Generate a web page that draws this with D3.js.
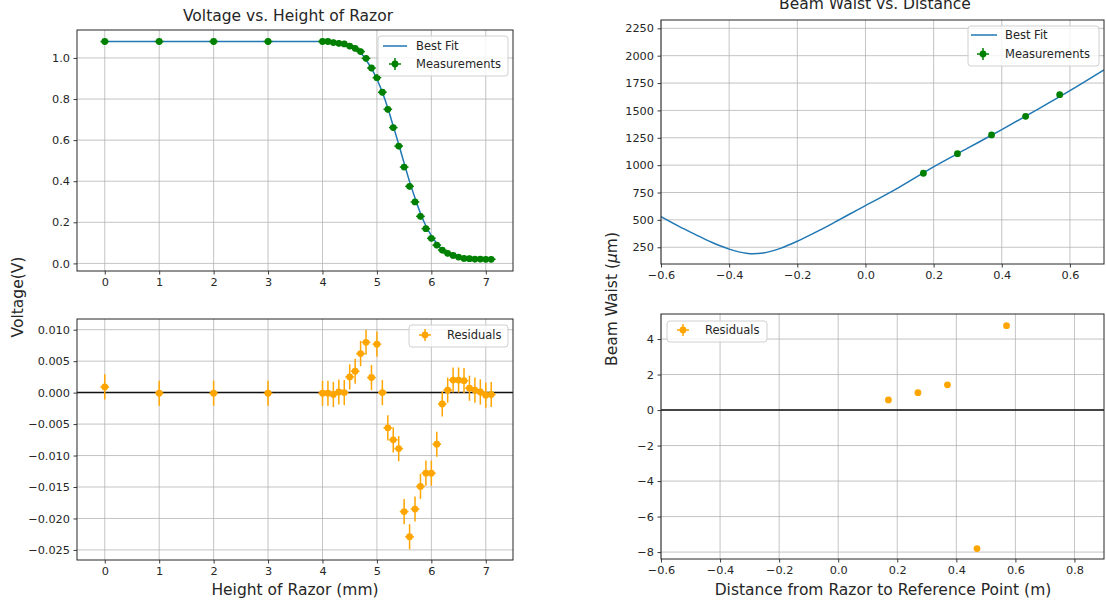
<!DOCTYPE html>
<html>
<head>
<meta charset="utf-8">
<script src="https://cdn.jsdelivr.net/npm/d3@7"></script>
<style>
  body { margin: 0; background: #fff; }
  text { font-family: "DejaVu Sans", sans-serif; }
</style>
</head>
<body>
<svg id="chart"></svg>
<script>
// razor scan (left panels)
const heightMM = [0, 1, 2, 3, 4.0, 4.1, 4.2, 4.3, 4.4, 4.5, 4.6, 4.7, 4.8, 4.9, 5.0, 5.1, 5.2, 5.3, 5.4, 5.5,
  5.6, 5.7, 5.8, 5.9, 6.0, 6.1, 6.2, 6.3, 6.4, 6.5, 6.6, 6.7, 6.8, 6.9, 7.0, 7.1];
const voltage = [1.08, 1.08, 1.08, 1.08, 1.08, 1.08, 1.075, 1.071, 1.068, 1.058, 1.047, 1.031, 0.998, 0.951,
  0.904, 0.833, 0.750, 0.661, 0.571, 0.469, 0.375, 0.299, 0.229, 0.169, 0.122, 0.089, 0.065, 0.049, 0.039,
  0.031, 0.024, 0.023, 0.021, 0.021, 0.020, 0.020];
const voltResid = [0.0009, -0.0001, -0.0001, -0.0001, -0.0001, -0.0001, -0.0003, 0.0001, 0.0, 0.0025, 0.0034,
  0.0062, 0.0080, 0.0024, 0.0077, 0.0, -0.0056, -0.0075, -0.0089, -0.0189, -0.0229, -0.0185, -0.0149, -0.0128,
  -0.0128, -0.0082, -0.0018, 0.0004, 0.0020, 0.0020, 0.0019, 0.0007, 0.0004, 0.0001, -0.0004, -0.0003];
const fitHeight = [0, 4.0, 4.1, 4.2, 4.3, 4.4, 4.5, 4.6, 4.7, 4.8, 4.9, 5.0, 5.1, 5.2, 5.3, 5.4, 5.5, 5.6, 5.7,
  5.8, 5.9, 6.0, 6.1, 6.2, 6.3, 6.4, 6.5, 6.6, 6.7, 6.8, 6.9, 7.0, 7.1];
const fitVoltage = [1.08, 1.08, 1.08, 1.076, 1.071, 1.068, 1.056, 1.044, 1.025, 0.990, 0.949, 0.896, 0.833,
  0.756, 0.668, 0.580, 0.488, 0.398, 0.318, 0.244, 0.182, 0.135, 0.097, 0.067, 0.049, 0.037, 0.029, 0.024,
  0.022, 0.021, 0.021, 0.020, 0.020];
const xErrMM = 0.08;
const yErrV = 0.015;
const yErrResid = 0.002;

// beam waist (right panels)
const distM = [0.17, 0.27, 0.37, 0.47, 0.57];
const waistUM = [926, 1105, 1276, 1446, 1644];
const waistResid = [0.57, 0.98, 1.42, -7.8, 4.75];
const fitDist = [-0.6, -0.55, -0.5, -0.45, -0.4, -0.35, -0.33, -0.3, -0.25, -0.2, -0.15, -0.1, -0.05, 0,
  0.1, 0.2, 0.3, 0.4, 0.5, 0.6, 0.7];
const fitWaist = [530, 446, 368, 293, 233, 195, 190, 197, 240, 305, 381, 462, 547, 630, 800, 985, 1155, 1325,
  1500, 1680, 1870];

const W = 1106, H = 607;
const svg = d3.select('#chart').attr('width', W).attr('height', H);
svg.append('rect').attr('width', W).attr('height', H).attr('fill', '#fff');

const defs = svg.append('defs');
let clipId = 0;

function panel(box, xDom, yDom, xTicks, yTicks, xFmt, yFmt) {
  const x = d3.scaleLinear().domain(xDom).range([box.x0, box.x1]);
  const y = d3.scaleLinear().domain(yDom).range([box.y1, box.y0]);
  const g = svg.append('g');

  g.selectAll('.gx').data(xTicks).enter().append('line')
    .attr('x1', d => x(d)).attr('x2', d => x(d))
    .attr('y1', box.y0).attr('y2', box.y1)
    .attr('stroke', '#b0b0b0').attr('stroke-width', 1).attr('stroke-opacity', 0.75);
  g.selectAll('.gy').data(yTicks).enter().append('line')
    .attr('x1', box.x0).attr('x2', box.x1)
    .attr('y1', d => y(d)).attr('y2', d => y(d))
    .attr('stroke', '#b0b0b0').attr('stroke-width', 1).attr('stroke-opacity', 0.75);

  const ax = g.append('g').attr('transform', `translate(0,${box.y1})`)
    .call(d3.axisBottom(x).tickValues(xTicks).tickFormat(xFmt).tickSizeInner(3.5).tickSizeOuter(0).tickPadding(3.5));
  const ay = g.append('g').attr('transform', `translate(${box.x0},0)`)
    .call(d3.axisLeft(y).tickValues(yTicks).tickFormat(yFmt).tickSizeInner(3.5).tickSizeOuter(0).tickPadding(3.5));
  [ax, ay].forEach(a => {
    a.select('.domain').remove();
    a.attr('font-family', '"DejaVu Sans", sans-serif').attr('font-size', 11.3);
    a.selectAll('text').attr('fill', '#262626');
    a.selectAll('line').attr('stroke', '#262626').attr('stroke-width', 0.9);
  });

  const id = 'clip' + (clipId++);
  defs.append('clipPath').attr('id', id).append('rect')
    .attr('x', box.x0).attr('y', box.y0).attr('width', box.x1 - box.x0).attr('height', box.y1 - box.y0);
  const plot = g.append('g').attr('clip-path', `url(#${id})`);
  return { x, y, g, plot, box };
}

function spines(p) {
  p.g.append('rect')
    .attr('x', p.box.x0).attr('y', p.box.y0)
    .attr('width', p.box.x1 - p.box.x0).attr('height', p.box.y1 - p.box.y0)
    .attr('fill', 'none').attr('stroke', '#262626').attr('stroke-width', 1);
}

function errorbars(p, xs, ys, ex, ey, color) {
  const pts = xs.map((d, i) => ({ x: d, y: ys[i] }));
  const g = p.plot.append('g').attr('stroke', color).attr('stroke-width', 1.5);
  if (ex) g.selectAll('.ex').data(pts).enter().append('line')
    .attr('x1', d => p.x(d.x - ex)).attr('x2', d => p.x(d.x + ex))
    .attr('y1', d => p.y(d.y)).attr('y2', d => p.y(d.y));
  if (ey) g.selectAll('.ey').data(pts).enter().append('line')
    .attr('x1', d => p.x(d.x)).attr('x2', d => p.x(d.x))
    .attr('y1', d => p.y(d.y - ey)).attr('y2', d => p.y(d.y + ey));
  p.plot.append('g').selectAll('circle').data(pts).enter().append('circle')
    .attr('cx', d => p.x(d.x)).attr('cy', d => p.y(d.y)).attr('r', 3.4).attr('fill', color);
}

function fitLine(p, xs, ys) {
  const line = d3.line().x(d => p.x(d[0])).y(d => p.y(d[1])).curve(d3.curveMonotoneX);
  p.plot.append('path').datum(xs.map((d, i) => [d, ys[i]]))
    .attr('d', line).attr('fill', 'none').attr('stroke', '#1f77b4').attr('stroke-width', 1.5);
}

function zeroLine(p) {
  p.plot.append('line')
    .attr('x1', p.box.x0).attr('x2', p.box.x1).attr('y1', p.y(0)).attr('y2', p.y(0))
    .attr('stroke', '#111').attr('stroke-width', 1.5);
}

function legendMarker(g, cx, cy, color) {
  g.append('line').attr('x1', cx - 6).attr('x2', cx + 6).attr('y1', cy).attr('y2', cy)
    .attr('stroke', color).attr('stroke-width', 1.5);
  g.append('line').attr('x1', cx).attr('x2', cx).attr('y1', cy - 6).attr('y2', cy + 6)
    .attr('stroke', color).attr('stroke-width', 1.5);
  g.append('circle').attr('cx', cx).attr('cy', cy).attr('r', 3.4).attr('fill', color);
}

function legendBox(p, x, y, w, h) {
  const g = p.g.append('g');
  g.append('rect').attr('x', x).attr('y', y).attr('width', w).attr('height', h).attr('rx', 3)
    .attr('fill', '#fff').attr('fill-opacity', 0.8).attr('stroke', '#d0d0d0');
  return g;
}

function legendText(g, x, y, s) {
  g.append('text').attr('x', x).attr('y', y).attr('font-size', 11.5).attr('fill', '#262626').text(s);
}

const f0 = d3.format('d');
const f1 = d3.format('.1f');
const f3 = d3.format('.3f');

// top left: voltage vs height
const tl = panel({ x0: 77, x1: 513, y0: 30, y1: 271 }, [-0.51, 7.5], [-0.037, 1.136],
  d3.range(0, 8), [0, 0.2, 0.4, 0.6, 0.8, 1.0], f0, f1);
fitLine(tl, fitHeight, fitVoltage);
errorbars(tl, heightMM, voltage, xErrMM, yErrV, 'green');
spines(tl);
let lg = legendBox(tl, 378, 36, 130, 40);
lg.append('line').attr('x1', 383).attr('x2', 407).attr('y1', 46).attr('y2', 46)
  .attr('stroke', '#1f77b4').attr('stroke-width', 1.5);
legendText(lg, 416, 50, 'Best Fit');
legendMarker(lg, 395, 64, 'green');
legendText(lg, 416, 68, 'Measurements');

// bottom left: residuals
const bl = panel({ x0: 77, x1: 513, y0: 319, y1: 560 }, [-0.51, 7.5], [-0.0266, 0.0117],
  d3.range(0, 8), [-0.025, -0.02, -0.015, -0.01, -0.005, 0, 0.005, 0.01], f0, f3);
zeroLine(bl);
errorbars(bl, heightMM, voltResid, xErrMM, yErrResid, 'orange');
spines(bl);
lg = legendBox(bl, 409, 325, 99, 22);
legendMarker(lg, 425, 335, 'orange');
legendText(lg, 447, 339, 'Residuals');

// top right: beam waist vs distance
const tr = panel({ x0: 661, x1: 1104, y0: 20, y1: 264 }, [-0.6, 0.7], [97, 2326],
  [-0.6, -0.4, -0.2, 0, 0.2, 0.4, 0.6], d3.range(250, 2251, 250), f1, f0);
fitLine(tr, fitDist, fitWaist);
errorbars(tr, distM, waistUM, 0, 0, 'green');
spines(tr);
lg = legendBox(tr, 968, 26, 131, 40);
lg.append('line').attr('x1', 971).attr('x2', 997).attr('y1', 35).attr('y2', 35)
  .attr('stroke', '#1f77b4').attr('stroke-width', 1.5);
legendText(lg, 1005, 39, 'Best Fit');
legendMarker(lg, 983, 54, 'green');
legendText(lg, 1005, 58, 'Measurements');

// bottom right: residuals
const br = panel({ x0: 661, x1: 1104, y0: 314, y1: 559 }, [-0.6, 0.9], [-8.39, 5.41],
  [-0.6, -0.4, -0.2, 0, 0.2, 0.4, 0.6, 0.8], [-8, -6, -4, -2, 0, 2, 4], f1, f0);
zeroLine(br);
errorbars(br, distM, waistResid, 0, 0, 'orange');
spines(br);
lg = legendBox(br, 667, 321, 100, 21);
legendMarker(lg, 683, 330, 'orange');
legendText(lg, 705, 334, 'Residuals');

// titles and labels
const label = (x, y, s, rot) => {
  const t = svg.append('text').attr('text-anchor', 'middle').attr('font-size', 15.5).attr('fill', '#262626')
    .attr('transform', `translate(${x},${y})` + (rot ? ' rotate(-90)' : ''));
  return t;
};
label(288, 21).text('Voltage vs. Height of Razor');
label(875, 9).text('Beam Waist vs. Distance');
label(295, 595).text('Height of Razor (mm)');
label(883, 595).text('Distance from Razor to Reference Point (m)');
label(23, 297, null, true).text('Voltage(V)');
const bw = label(617, 299, null, true);
bw.append('tspan').text('Beam Waist (');
bw.append('tspan').attr('font-style', 'italic').text('μ');
bw.append('tspan').text('m)');
</script>
</body>
</html>
